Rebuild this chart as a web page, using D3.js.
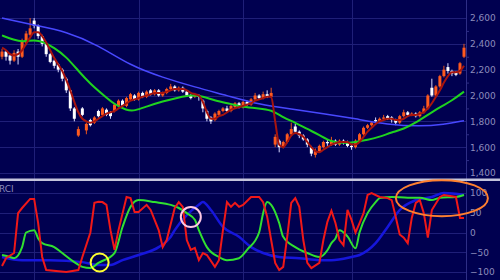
<!DOCTYPE html>
<html><head><meta charset="utf-8">
<script src="https://cdn.jsdelivr.net/npm/d3@7"></script>
<style>html,body{margin:0;padding:0;background:#000050;overflow:hidden}</style>
</head><body><svg id="c" width="500" height="280"></svg>
<script>
// ---------- DATA ----------
const candleOpen = [2300,2340,2310,2270,2340,2300,2410,2470,2580,2540,
 2460,2400,2320,2270,2240,2200,2130,2040,1900,1690,
 1900,1730,1810,1790,1880,1850,1890,1870,1880,1920,
 1960,1920,1970,2000,1970,2020,1990,2040,2010,2040,
 2000,2020,2050,2070,2040,2060,2030,2000,1990,2000,
 1960,1880,1830,1810,1850,1880,1900,1880,1910,1940,
 1910,1950,1930,1970,2000,1980,2010,1990,1620,1650,
 1600,1640,1700,1760,1720,1690,1660,1600,1540,1570,
 1600,1640,1620,1650,1620,1650,1640,1610,1600,1650,
 1700,1750,1770,1810,1800,1820,1840,1830,1810,1790,
 1840,1870,1850,1860,1840,1870,1900,2060,2000,2070,
 2150,2220,2190,2180,2170,2300];
const candleClose = [2340,2300,2270,2330,2300,2420,2480,2520,2540,2460,
 2400,2320,2260,2230,2200,2130,2040,1900,1820,1740,
 1850,1780,1770,1830,1840,1900,1850,1840,1930,1960,
 1920,1980,2010,1970,2020,1990,2030,2010,2040,2000,
 2020,2050,2070,2040,2060,2030,2000,1980,2010,1990,
 1900,1820,1800,1860,1880,1900,1880,1920,1940,1910,
 1950,1930,1970,2000,1980,2010,1990,2020,1680,1600,
 1640,1700,1740,1720,1690,1660,1620,1550,1570,1610,
 1640,1630,1650,1620,1650,1640,1610,1600,1650,1700,
 1750,1770,1790,1800,1820,1830,1820,1810,1790,1840,
 1870,1850,1860,1840,1870,1900,2000,2000,2070,2150,
 2200,2190,2170,2160,2250,2370];
const candleHigh = [2360,2350,2320,2350,2360,2440,2500,2600,2600,2550,
 2470,2410,2330,2280,2250,2210,2140,2050,1910,1760,
 1910,1790,1820,1840,1890,1910,1900,1880,1940,1970,
 1970,1990,2020,2010,2030,2030,2040,2050,2050,2050,
 2030,2060,2090,2080,2070,2070,2040,2010,2020,2010,
 1970,1890,1840,1870,1890,1910,1920,1930,1950,1950,
 1960,1960,1980,2020,2010,2030,2040,2060,1700,1660,
 1650,1710,1790,1780,1730,1700,1670,1610,1590,1620,
 1650,1660,1680,1660,1660,1660,1650,1620,1660,1710,
 1760,1780,1800,1830,1830,1850,1850,1840,1820,1850,
 1890,1880,1870,1870,1880,1920,2010,2130,2080,2160,
 2230,2250,2200,2190,2260,2400];
const candleLow = [2280,2270,2240,2260,2240,2290,2390,2460,2520,2440,
 2380,2300,2250,2210,2180,2110,2020,1880,1800,1680,
 1840,1700,1760,1780,1830,1840,1840,1820,1870,1910,
 1900,1910,1960,1960,1960,1980,1980,2000,2000,1990,
 1990,2010,2040,2030,2030,2020,1990,1970,1980,1960,
 1870,1800,1780,1800,1840,1870,1870,1870,1900,1900,
 1900,1920,1920,1960,1970,1970,1980,1980,1600,1560,
 1590,1630,1690,1710,1670,1650,1600,1530,1520,1560,
 1590,1610,1610,1610,1610,1620,1600,1580,1590,1640,
 1690,1740,1760,1790,1790,1810,1810,1790,1770,1780,
 1830,1840,1840,1830,1830,1860,1890,1990,1990,2060,
 2140,2170,2150,2150,2160,2290];
// short moving average (dark red), one value per candle
const maShort = [2370,2350,2320,2310,2320,2350,2400,2450,2490,2490,
 2460,2410,2350,2290,2240,2190,2120,2040,1950,1870,
 1820,1800,1790,1800,1820,1840,1860,1870,1880,1900,
 1920,1940,1960,1970,1980,1990,2000,2010,2020,2020,
 2020,2030,2040,2050,2050,2050,2040,2020,2010,2000,
 1950,1870,1820,1820,1840,1850,1870,1890,1900,1910,
 1920,1930,1940,1960,1970,1980,1990,1990,1800,1620,
 1600,1640,1690,1710,1700,1680,1640,1600,1570,1560,
 1580,1600,1620,1630,1640,1640,1640,1620,1620,1640,
 1680,1720,1750,1780,1800,1810,1820,1820,1810,1810,
 1820,1840,1850,1850,1860,1870,1900,1940,1990,2040,
 2100,2150,2180,2180,2190,2230];
// medium MA (green): [candle index, value]
const maMid = [[0,2465],[3,2430],[5,2415],[8,2430],[10,2420],[13,2370],[16,2300],[19,2190],
 [22,2090],[25,2010],[28,1930],[31,1885],[33,1880],[36,1915],[40,1955],[44,1985],[47,2005],
 [50,1995],[53,1960],[57,1935],[60,1910],[64,1900],[67,1890],[70,1830],[73,1790],[76,1740],
 [79,1695],[82,1640],[85,1630],[88,1640],[91,1655],[94,1680],[97,1715],[100,1740],[103,1790],
 [106,1850],[109,1910],[112,1960],[115,2030]];
// long MA (blue): [candle index, value]
const maLong = [[0,2600],[8,2545],[16,2495],[24,2390],[32,2230],[40,2140],[48,2065],[56,2000],
 [64,1930],[72,1895],[80,1860],[88,1820],[96,1775],[104,1760],[110,1775],[115,1805]];
// RCI series: [candle index, value]
const rciShort = [[0,-85],[1,-65],[3,-52],[4,49],[5,62],[7,85],[8,85],[9,24],[10,-62],[11,-95],
 [16,-100],[19,-95],[20,-62],[22,0],[23,75],[24,78],[25,77],[26,70],[27,6],[28,-44],[29,6],
 [31,90],[32,87],[33,52],[34,52],[36,70],[37,57],[39,6],[40,-37],[41,-19],[43,62],[44,77],
 [45,65],[46,-19],[47,-44],[48,-39],[49,-70],[50,-52],[51,-57],[53,-87],[54,-70],[55,6],
 [56,77],[57,65],[58,75],[59,65],[60,70],[62,90],[64,90],[65,77],[66,40],[67,-19],[68,-77],
 [69,-95],[70,-87],[71,-11],[72,75],[73,87],[74,65],[75,-19],[76,-77],[77,-90],[79,-77],
 [80,-19],[81,27],[82,55],[83,24],[84,-19],[85,-32],[86,57],[87,32],[88,0],[89,24],[90,49],
 [91,95],[92,100],[94,90],[96,87],[97,82],[98,40],[99,-5],[100,-13],[101,-27],[102,37],
 [103,75],[104,82],[105,49],[106,-13],[107,57],[109,90],[110,95],[113,90],[114,37],[115,37]];
const rciMid = [[0,-57],[2,-62],[3,-65],[5,-37],[6,0],[8,6],[9,-15],[10,-27],[13,-37],[15,-52],
 [18,-75],[20,-87],[22,-90],[24,-77],[28,-52],[30,14],[32,65],[34,82],[38,77],[42,70],[44,62],
 [46,49],[48,32],[49,6],[51,-37],[54,-62],[56,-70],[59,-65],[61,-44],[64,0],[65,49],[66,77],
 [67,70],[69,24],[70,-11],[73,-37],[76,-52],[79,-62],[81,-45],[82,-27],[83,-15],[84,6],
 [86,-10],[88,-40],[89,0],[91,49],[93,77],[94,87],[97,90],[101,88],[104,88],[107,82],
 [109,88],[113,90],[115,95]];
const rciLong = [[0,-62],[5,-70],[12,-70],[20,-75],[24,-82],[27,-82],[30,-70],[34,-57],[39,-37],
 [42,-11],[43,6],[46,44],[49,70],[50,77],[52,57],[55,14],[59,-11],[62,-37],[65,-52],[69,-62],
 [74,-65],[79,-70],[82,-70],[87,-62],[89,-57],[93,-27],[96,14],[99,57],[103,82],[107,90],
 [110,100],[115,95]];
const priceTicks = [1400,1600,1800,2000,2200,2400,2600];
const priceMinorTicks = [1500,1700,1900,2100,2300,2500];
const rciTicks = [-100,-50,0,50,100];
const monthStartIdx = [8,34,60,87];
// annotation marks: [candle index, RCI value]
const markYellow = [24.3,-76];
const markPink = [47,39];
const markOrange = [109.5,87];

// ---------- DRAW ----------
const N = candleClose.length;
const svg = d3.select('#c');
const plotR = 466;
const x = d3.scaleLinear().domain([-0.5, N-0.5]).range([0, plotR]);
const yP = d3.scaleLinear().domain([1400,2600]).range([173,18]);
const yR = d3.scaleLinear().domain([-100,100]).range([272,193]);

svg.append('rect').attr('width',500).attr('height',280).attr('fill','#000050');
const defs = svg.append('defs');
defs.append('clipPath').attr('id','cm').append('rect').attr('x',0).attr('y',0).attr('width',plotR).attr('height',178);
defs.append('clipPath').attr('id','cr').append('rect').attr('x',0).attr('y',182).attr('width',plotR).attr('height',98);

const gridCol = '#1f1f78';
// grids
const gm = svg.append('g');
gm.selectAll('.hp').data(priceTicks).join('line')
  .attr('x1',0).attr('x2',plotR).attr('y1',d=>Math.round(yP(d))+0.5).attr('y2',d=>Math.round(yP(d))+0.5)
  .attr('stroke',gridCol).attr('stroke-width',1);
gm.selectAll('.hr').data(rciTicks).join('line')
  .attr('x1',0).attr('x2',plotR).attr('y1',d=>Math.round(yR(d))+0.5).attr('y2',d=>Math.round(yR(d))+0.5)
  .attr('stroke',gridCol).attr('stroke-width',1);
gm.selectAll('.v').data(monthStartIdx).join('line')
  .attr('x1',d=>Math.round(x(d))+0.5).attr('x2',d=>Math.round(x(d))+0.5).attr('y1',0).attr('y2',280)
  .attr('stroke',gridCol).attr('stroke-width',1);
svg.append('line').attr('x1',plotR+0.5).attr('x2',plotR+0.5).attr('y1',0).attr('y2',280)
  .attr('stroke','#2e2e86').attr('stroke-width',1);

// axes
const textCol = '#8c8cbc';
function styleAxis(g){
  g.select('.domain').remove();
  g.selectAll('line').attr('stroke','#2e2e86');
  g.selectAll('text').attr('fill',textCol).attr('font-family','DejaVu Sans, Verdana, sans-serif').attr('font-size',9);
}
svg.append('g').attr('transform',`translate(${plotR},0)`)
  .call(d3.axisRight(yP).tickValues(priceTicks).tickFormat(d3.format(',')).tickSize(0).tickPadding(4))
  .call(styleAxis);
svg.append('g').attr('transform',`translate(${plotR},0)`)
  .call(d3.axisRight(yP).tickValues(priceMinorTicks).tickFormat('').tickSize(3))
  .call(styleAxis);
svg.append('g').attr('transform',`translate(${plotR},0)`)
  .call(d3.axisRight(yR).tickValues(rciTicks).tickFormat(d3.format('d')).tickSize(0).tickPadding(4))
  .call(styleAxis);

// candles
const cg = svg.append('g').attr('clip-path','url(#cm)');
const idx = d3.range(N);
const isUp = i => candleClose[i] >= candleOpen[i];
const upCol = '#ff5a1e', dnCol = '#ffffff';
cg.selectAll('.w').data(idx).join('line')
  .attr('x1',i=>x(i)).attr('x2',i=>x(i))
  .attr('y1',i=>yP(candleHigh[i])).attr('y2',i=>yP(candleLow[i]))
  .attr('stroke',i=>isUp(i)?'#e8541c':'#d8d8ff').attr('stroke-width',1);
cg.selectAll('.b').data(idx).join('rect')
  .attr('x',i=>x(i)-1.5).attr('width',3)
  .attr('y',i=>yP(Math.max(candleOpen[i],candleClose[i])))
  .attr('height',i=>Math.max(1,Math.abs(yP(candleOpen[i])-yP(candleClose[i]))))
  .attr('fill',i=>isUp(i)?upCol:dnCol);

// moving averages
const lineIdx = d3.line().x(i=>x(i)).y(i=>yP(maShort[i])).curve(d3.curveMonotoneX);
const linePair = (ys,curve)=>d3.line().x(d=>x(d[0])).y(d=>ys(d[1])).curve(curve);
cg.append('path').datum(maLong).attr('d',linePair(yP,d3.curveBasis)).attr('fill','none')
  .attr('stroke','#4848ff').attr('stroke-width',1.5);
cg.append('path').datum(maMid).attr('d',linePair(yP,d3.curveBasis)).attr('fill','none')
  .attr('stroke','#1fd21f').attr('stroke-width',2);
cg.append('path').datum(idx).attr('d',lineIdx).attr('fill','none')
  .attr('stroke','#a8140e').attr('stroke-width',2);

// separator
svg.append('rect').attr('x',0).attr('y',178.5).attr('width',500).attr('height',2.5).attr('fill','#c4c4dc');

// RCI
const rg = svg.append('g').attr('clip-path','url(#cr)');
rg.append('path').datum(rciLong).attr('d',linePair(yR,d3.curveMonotoneX)).attr('fill','none')
  .attr('stroke','#1616dc').attr('stroke-width',2.5);
rg.append('path').datum(rciMid).attr('d',linePair(yR,d3.curveMonotoneX)).attr('fill','none')
  .attr('stroke','#30e030').attr('stroke-width',2);
rg.append('path').datum(rciShort).attr('d',linePair(yR,d3.curveLinear)).attr('fill','none')
  .attr('stroke','#f01818').attr('stroke-width',2);

svg.append('text').attr('x',-1).attr('y',192).text('RCI')
  .attr('fill',textCol).attr('font-family','DejaVu Sans, Verdana, sans-serif').attr('font-size',9);

// annotations
svg.append('circle').attr('cx',x(markYellow[0])).attr('cy',yR(markYellow[1])).attr('r',9)
  .attr('fill','none').attr('stroke','#ffff30').attr('stroke-width',2);
svg.append('circle').attr('cx',x(markPink[0])).attr('cy',yR(markPink[1])).attr('r',10)
  .attr('fill','none').attr('stroke','#ffc8e4').attr('stroke-width',2);
svg.append('ellipse').attr('cx',x(markOrange[0])).attr('cy',yR(markOrange[1])).attr('rx',46).attr('ry',18)
  .attr('fill','none').attr('stroke','#ff8030').attr('stroke-width',2);
</script></body></html>
